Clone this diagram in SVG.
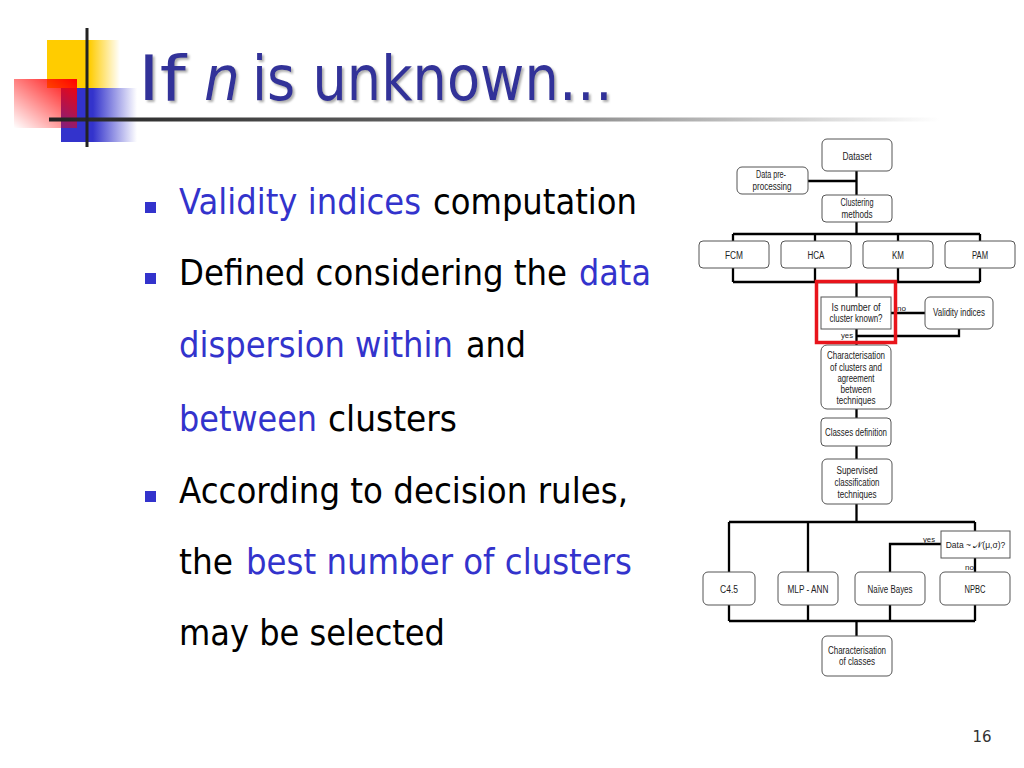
<svg xmlns="http://www.w3.org/2000/svg" width="1024" height="768" viewBox="0 0 1024 768">
<defs>
<linearGradient id="gY" x1="0" y1="0" x2="1" y2="0"><stop offset="0" stop-color="#FFCC00"/><stop offset="0.58" stop-color="#FFCC00"/><stop offset="1" stop-color="#FFCC00" stop-opacity="0"/></linearGradient>
<linearGradient id="gB" x1="0" y1="0" x2="1" y2="0"><stop offset="0" stop-color="#3333CC"/><stop offset="0.42" stop-color="#3333CC"/><stop offset="1" stop-color="#3333CC" stop-opacity="0"/></linearGradient>
<linearGradient id="gR" x1="1" y1="0" x2="0" y2="1"><stop offset="0" stop-color="#FF0000"/><stop offset="1" stop-color="#FF0000" stop-opacity="0"/></linearGradient>
<linearGradient id="gL" x1="0" y1="0" x2="1" y2="0"><stop offset="0" stop-color="#222222"/><stop offset="0.45" stop-color="#666666"/><stop offset="1" stop-color="#FFFFFF"/></linearGradient>
<filter id="sh" x="-10%" y="-20%" width="120%" height="150%"><feDropShadow dx="2" dy="2" stdDeviation="1" flood-color="#999999" flood-opacity="0.8"/></filter>
<style>
.title{font-family:"DejaVu Sans",Verdana,sans-serif;font-size:62px;fill:#333399}
.body{font-family:"DejaVu Sans",Verdana,sans-serif;font-size:35px;fill:#000}
.hl{fill:#3333CC}
.bul{fill:#3333CC}
.box{fill:#fff;stroke:#555;stroke-width:1}
.t{font-family:"Liberation Sans",Arial,sans-serif;font-size:10px;fill:#222;text-anchor:middle}
.s{font-family:"Liberation Sans",Arial,sans-serif;font-size:8px;fill:#222;text-anchor:middle}
.con{fill:none;stroke:#000;stroke-width:2.3}
.pn{font-family:"DejaVu Sans",Verdana,sans-serif;font-size:15px;fill:#333;text-anchor:middle}
</style>
</defs>
<rect width="1024" height="768" fill="#fff"/>
<g id="decor">
<rect x="47" y="40" width="73" height="48" fill="url(#gY)"/>
<rect x="61" y="88" width="76" height="54" fill="url(#gB)"/>
<rect x="14" y="79" width="63" height="49" fill="url(#gR)"/>
<rect x="49" y="117.5" width="891" height="4" fill="url(#gL)"/>
<rect x="85.5" y="28" width="3" height="119" fill="#222"/>
</g>
<g id="title" filter="url(#sh)">
<text class="title" x="138" y="100" textLength="48" lengthAdjust="spacingAndGlyphs">If</text>
<text class="title" x="204" y="100" font-style="italic" textLength="36" lengthAdjust="spacingAndGlyphs">n</text>
<text class="title" x="252" y="100" textLength="361" lengthAdjust="spacingAndGlyphs">is unknown…</text>
</g>
<g id="bullets">
<rect class="bul" x="145" y="202" width="11" height="11"/>
<rect class="bul" x="145" y="273" width="11" height="11"/>
<rect class="bul" x="145" y="491" width="11" height="11"/>
<text class="body hl" x="179" y="214" textLength="242" lengthAdjust="spacingAndGlyphs">Validity indices</text>
<text class="body" x="433" y="214" textLength="204" lengthAdjust="spacingAndGlyphs">computation</text>
<text class="body" x="179" y="285" textLength="388" lengthAdjust="spacingAndGlyphs">Defined considering the</text>
<text class="body hl" x="579" y="285" textLength="72" lengthAdjust="spacingAndGlyphs">data</text>
<text class="body hl" x="179" y="357" textLength="274" lengthAdjust="spacingAndGlyphs">dispersion within</text>
<text class="body" x="466" y="357" textLength="60" lengthAdjust="spacingAndGlyphs">and</text>
<text class="body hl" x="179" y="431" textLength="138" lengthAdjust="spacingAndGlyphs">between</text>
<text class="body" x="328" y="431" textLength="129" lengthAdjust="spacingAndGlyphs">clusters</text>
<text class="body" x="179" y="503" textLength="449" lengthAdjust="spacingAndGlyphs">According to decision rules,</text>
<text class="body" x="179" y="574" textLength="54" lengthAdjust="spacingAndGlyphs">the</text>
<text class="body hl" x="246" y="574" textLength="386" lengthAdjust="spacingAndGlyphs">best number of clusters</text>
<text class="body" x="179" y="645" textLength="266" lengthAdjust="spacingAndGlyphs">may be selected</text>
</g>
<g id="connectors">
<path class="con" d="M856.5 171V195M808 181H856.5M856.5 222V234M733 234H980M733 234V241M815 234V241M898 234V241M980 234V241M733 268V282M815 268V282M898 268V282M980 268V282M733 282H980M856.5 282V297M891 313H925M959 329V336H856.5M856.5 329V345M856.5 409V418M856.5 446V459M856.5 504V522M729 522H975M729 522V572M808 522V572M975 522V531M941 544H890V572M975 558V572M729 605V621M808 605V621M890 605V621M975 605V621M729 621H975M856.5 621V636"/>
<text class="s" x="901.5" y="311" textLength="9" lengthAdjust="spacingAndGlyphs">no</text>
<text class="s" x="847" y="337.5" textLength="12" lengthAdjust="spacingAndGlyphs">yes</text>
<text class="s" x="929" y="541.5" textLength="12" lengthAdjust="spacingAndGlyphs">yes</text>
<text class="s" x="969.5" y="570" textLength="9" lengthAdjust="spacingAndGlyphs">no</text>
</g>
<g id="n-dataset"><rect class="box" x="822" y="139" width="70" height="32" rx="5"/><text class="t" x="857" y="159.5" textLength="29" lengthAdjust="spacingAndGlyphs">Dataset</text></g>
<g id="n-preproc"><rect class="box" x="737" y="167" width="71" height="27" rx="5"/><text class="t" x="771" y="178" textLength="30" lengthAdjust="spacingAndGlyphs">Data pre-</text><text class="t" x="772" y="189.5" textLength="39" lengthAdjust="spacingAndGlyphs">processing</text></g>
<g id="n-clustering"><rect class="box" x="822" y="195" width="70" height="27" rx="4"/><text class="t" x="857" y="206" textLength="33" lengthAdjust="spacingAndGlyphs">Clustering</text><text class="t" x="857" y="217.5" textLength="31" lengthAdjust="spacingAndGlyphs">methods</text></g>
<g id="n-fcm"><rect class="box" x="699" y="241" width="70" height="27" rx="4"/><text class="t" x="734" y="258.5" textLength="18" lengthAdjust="spacingAndGlyphs">FCM</text></g>
<g id="n-hca"><rect class="box" x="781" y="241" width="70" height="27" rx="4"/><text class="t" x="816" y="258.5" textLength="17" lengthAdjust="spacingAndGlyphs">HCA</text></g>
<g id="n-km"><rect class="box" x="863" y="241" width="70" height="27" rx="4"/><text class="t" x="898" y="258.5" textLength="12" lengthAdjust="spacingAndGlyphs">KM</text></g>
<g id="n-pam"><rect class="box" x="945" y="241" width="70" height="27" rx="4"/><text class="t" x="980" y="258.5" textLength="16" lengthAdjust="spacingAndGlyphs">PAM</text></g>
<g id="n-isknown"><rect class="box" x="821" y="297" width="70" height="32"/><text class="t" x="856" y="311" textLength="49" lengthAdjust="spacingAndGlyphs">Is number of</text><text class="t" x="856" y="322" textLength="53" lengthAdjust="spacingAndGlyphs">cluster known?</text></g>
<g id="n-validity"><rect class="box" x="925" y="297" width="68" height="32" rx="5"/><text class="t" x="959" y="316" textLength="52" lengthAdjust="spacingAndGlyphs">Validity indices</text></g>
<g id="n-charclusters"><rect class="box" x="821" y="345" width="70" height="64" rx="6"/><text class="t" x="856" y="359" textLength="58" lengthAdjust="spacingAndGlyphs">Characterisation</text><text class="t" x="856" y="370.5" textLength="52" lengthAdjust="spacingAndGlyphs">of clusters and</text><text class="t" x="856" y="381.5" textLength="37" lengthAdjust="spacingAndGlyphs">agreement</text><text class="t" x="856" y="393" textLength="31" lengthAdjust="spacingAndGlyphs">between</text><text class="t" x="856" y="404" textLength="39" lengthAdjust="spacingAndGlyphs">techniques</text></g>
<g id="n-classesdef"><rect class="box" x="821" y="418" width="70" height="28" rx="4"/><text class="t" x="856" y="436" textLength="62" lengthAdjust="spacingAndGlyphs">Classes definition</text></g>
<g id="n-supervised"><rect class="box" x="822" y="459" width="70" height="45" rx="5"/><text class="t" x="857" y="474" textLength="41" lengthAdjust="spacingAndGlyphs">Supervised</text><text class="t" x="857" y="486" textLength="45" lengthAdjust="spacingAndGlyphs">classification</text><text class="t" x="857" y="497.5" textLength="39" lengthAdjust="spacingAndGlyphs">techniques</text></g>
<g id="n-datanormal"><rect class="box" x="941" y="531" width="69" height="27"/><text class="t" x="975.5" y="547.5" style="font-size:8.5px">Data ~ 𝒩(μ,σ)?</text></g>
<g id="n-c45"><rect class="box" x="703" y="572" width="52" height="33" rx="5"/><text class="t" x="729" y="592.5" textLength="18" lengthAdjust="spacingAndGlyphs">C4.5</text></g>
<g id="n-mlp"><rect class="box" x="778" y="572" width="60" height="33" rx="5"/><text class="t" x="808" y="592.5" textLength="41" lengthAdjust="spacingAndGlyphs">MLP - ANN</text></g>
<g id="n-nb"><rect class="box" x="855" y="572" width="70" height="33" rx="5"/><text class="t" x="890" y="592.5" textLength="45" lengthAdjust="spacingAndGlyphs">Naïve Bayes</text></g>
<g id="n-npbc"><rect class="box" x="940" y="572" width="70" height="33" rx="5"/><text class="t" x="975" y="592.5" textLength="21" lengthAdjust="spacingAndGlyphs">NPBC</text></g>
<g id="n-charclasses"><rect class="box" x="822" y="636" width="70" height="40" rx="5"/><text class="t" x="857" y="654" textLength="58" lengthAdjust="spacingAndGlyphs">Characterisation</text><text class="t" x="857" y="665" textLength="36" lengthAdjust="spacingAndGlyphs">of classes</text></g>
<g id="highlight"><rect x="816.5" y="281.5" width="79" height="61" fill="none" stroke="#E8141B" stroke-width="3.5"/></g>
<g id="page"><text class="pn" x="982" y="742">16</text></g>
</svg>
